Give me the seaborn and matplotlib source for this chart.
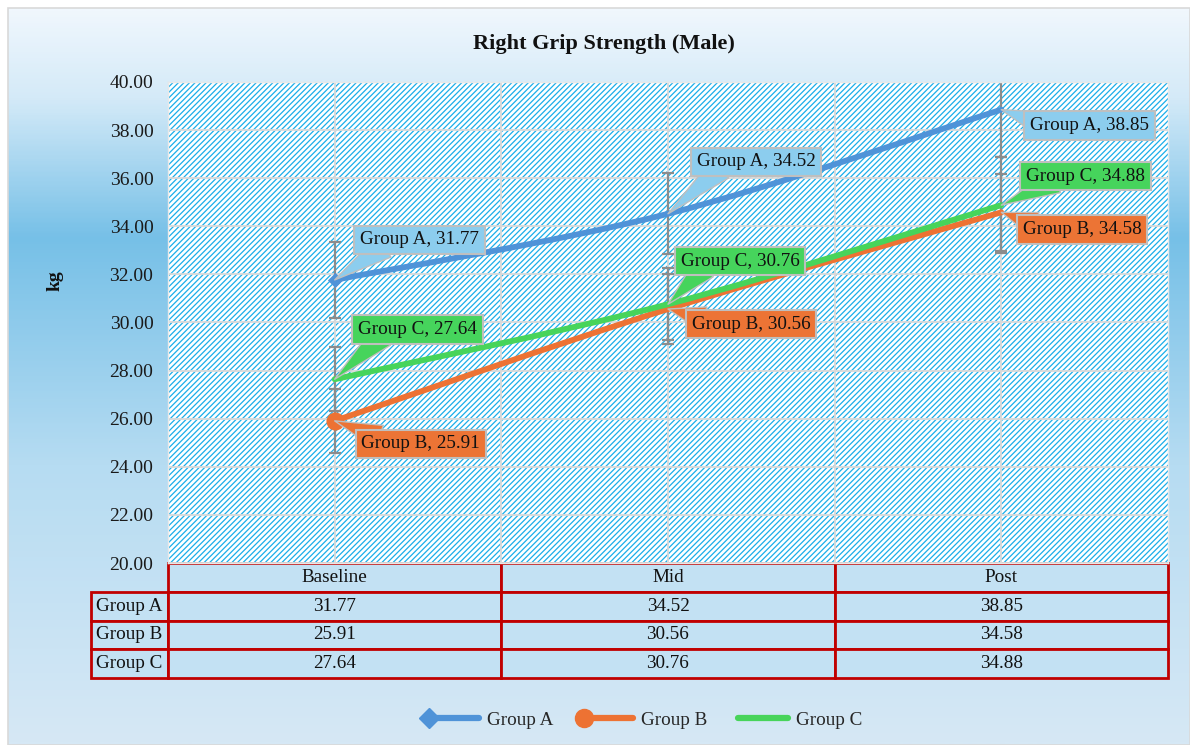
import numpy as np
import pandas as pd
import matplotlib
matplotlib.use("Agg")
import matplotlib.pyplot as plt
import seaborn as sns
from matplotlib.path import Path
from matplotlib.patches import PathPatch, Rectangle
from matplotlib.lines import Line2D
from matplotlib.table import Table
from matplotlib.colors import LinearSegmentedColormap
from matplotlib.legend_handler import HandlerLine2D

# ---- data -------------------------------------------------------------
phases = ["Baseline", "Mid", "Post"]
groups = ["Group A", "Group B", "Group C"]
group_a = [31.77, 34.52, 38.85]
group_b = [25.91, 30.56, 34.58]
group_c = [27.64, 30.76, 34.88]
err_a = [1.58, 1.68, 1.95]
err_b = [1.32, 1.45, 1.60]
err_c = [1.34, 1.50, 2.00]
y_ticks = [20, 22, 24, 26, 28, 30, 32, 34, 36, 38, 40]

values = {"Group A": group_a, "Group B": group_b, "Group C": group_c}
errors = {"Group A": err_a, "Group B": err_b, "Group C": err_c}

df = pd.DataFrame(
    [(g, p, i, values[g][i], errors[g][i])
     for g in groups for i, p in enumerate(phases)],
    columns=["group", "phase", "pos", "value", "err"],
)

# ---- styling ----------------------------------------------------------
line_colors = {"Group A": "#4f93d8", "Group B": "#ed7233", "Group C": "#47d45a"}
box_colors = {"Group A": "#8ccdee", "Group B": "#ec7435", "Group C": "#46d45c"}
# label offsets (pixels) from each point
label_offsets = {
    "Group A": [(85, 40), (88, 52), (88, -16)],
    "Group B": [(86, -23), (83, -15), (81, -17)],
    "Group C": [(83, 50), (72, 43), (84, 29)],
}
label_relpos = {
    "Group A": [(0.2, 0.1), (0.2, 0.1), (0.1, 0.6)],
    "Group B": [(0.15, 0.9), (0.1, 0.8), (0.1, 0.8)],
    "Group C": [(0.2, 0.1), (0.2, 0.1), (0.25, 0.2)],
}

sns.set_theme(style="white")
plt.rcParams["font.family"] = ["Liberation Serif", "DejaVu Serif"]
plt.rcParams["hatch.linewidth"] = 0.9

W, H = 1190, 745
fig = plt.figure(figsize=(W / 100, H / 100), dpi=100)
fig.patch.set_facecolor("white")

# chart-area background gradient
bg = fig.add_axes([0, 0, 1, 1], zorder=-10)
bg.set_xlim(0, 1)
bg.set_ylim(0, 1)
bg.axis("off")
cmap = LinearSegmentedColormap.from_list(
    "bg",
    [(0.0, "#f0f7fd"), (0.12, "#d4eaf8"), (0.31, "#76c0e7"),
     (0.62, "#b6dcf2"), (1.0, "#d6e8f5")],
)
grad = np.linspace(0, 1, 400)[:, None]
x0f, y1f = 8 / W, 1 - 8 / H
bg.imshow(grad, cmap=cmap, aspect="auto", extent=[x0f, 1, 0, y1f], origin="upper")
bg.add_patch(Rectangle((x0f, 0), 1 - x0f, y1f, fill=False,
                       edgecolor="#d9d9d9", lw=1.2))

# main plot area
L, R, T, B = 168, 1168, 82, 563
ax = fig.add_axes([L / W, 1 - B / H, (R - L) / W, (B - T) / H])
ax.set_facecolor("white")
ax.add_patch(Rectangle((0, 0), 1, 1, transform=ax.transAxes, hatch="//////",
                       fill=False, edgecolor="#1aaeea", lw=0, zorder=0.1))
ax.set_xlim(-0.5, 2.5)
ax.set_ylim(20, 40)
ax.set_xticks([0, 1, 2])
ax.set_xticks([0.5, 1.5], minor=True)
ax.set_yticks(y_ticks)
ax.set_yticklabels([f"{v:.2f}" for v in y_ticks])
ax.set_axisbelow(True)
ax.grid(True, which="both", axis="x", color="#d9d9d9", lw=1.3)
ax.grid(True, which="major", axis="y", color="#d9d9d9", lw=1.3)
ax.tick_params(axis="both", which="both", length=0, labelbottom=False)
ax.tick_params(axis="y", labelsize=14, pad=10.5, labelcolor="#1a1a1a")
for s in ax.spines.values():
    s.set_color("#e8e8e8")
    s.set_linewidth(1)

# error bars
for g in groups:
    sub = df[df.group == g]
    ax.errorbar(sub.pos, sub.value, yerr=sub.err, fmt="none",
                ecolor="#8c8c8c", elinewidth=1.6, capsize=4.5,
                capthick=1.6, zorder=2)


def smooth_path(xs, ys):
    pts = np.column_stack([xs, ys]).astype(float)
    ext = np.vstack([pts[0], pts, pts[-1]])
    verts = [pts[0]]
    codes = [Path.MOVETO]
    for i in range(len(pts) - 1):
        p0, p1, p2, p3 = ext[i], ext[i + 1], ext[i + 2], ext[i + 3]
        verts += [p1 + (p2 - p0) / 6, p2 - (p3 - p1) / 6, p2]
        codes += [Path.CURVE4] * 3
    return Path(verts, codes)


for g in groups:
    sub = df[df.group == g]
    ax.add_patch(PathPatch(smooth_path(sub.pos, sub.value), fill=False,
                           edgecolor=line_colors[g], lw=4.2,
                           capstyle="round", joinstyle="round", zorder=3))

# start markers
base = df[df.phase == "Baseline"]
sns.scatterplot(data=base[base.group == "Group A"], x="pos", y="value",
                marker="D", s=60, color=line_colors["Group A"],
                linewidth=0, ax=ax, zorder=4, legend=False)
sns.scatterplot(data=base[base.group == "Group B"], x="pos", y="value",
                marker="o", s=170, color=line_colors["Group B"],
                linewidth=0, ax=ax, zorder=4, legend=False)
ax.set_xlabel("")
ax.set_ylabel("")

# data labels
for g in groups:
    sub = df[df.group == g]
    for i, (x, y) in enumerate(zip(sub.pos, sub.value)):
        ax.annotate(
            f"{g}, {y:.2f}", xy=(x, y), xytext=label_offsets[g][i],
            textcoords="offset pixels", ha="center", va="center",
            fontsize=13.8, color="#111111", zorder=6, annotation_clip=False,
            bbox=dict(boxstyle="square,pad=0.3", fc=box_colors[g],
                      ec="#bfbfbf", lw=1.5),
            arrowprops=dict(arrowstyle="wedge,tail_width=1.3,shrink_factor=0.5",
                            fc=box_colors[g], ec="#bfbfbf", lw=1.0,
                            relpos=label_relpos[g][i], patchA=None,
                            shrinkA=0, shrinkB=0),
        )

# data table below the plot (bbox covers the value columns; row labels sit left)
tbl = Table(ax, bbox=[0, -(678 - B) / (B - T), 1, (678 - B) / (B - T)])
edge = "#c00000"
cell_fc = "#c3e1f3"
col_w, lab_w, row_h = 1 / 3, 77 / 1000, 0.06
for j, p in enumerate(phases):
    tbl.add_cell(0, j, width=col_w, height=row_h, text=p, loc="center",
                 facecolor=cell_fc, edgecolor=edge)
for i, g in enumerate(groups, start=1):
    tbl.add_cell(i, -1, width=lab_w, height=row_h, text=g, loc="left",
                 facecolor=cell_fc, edgecolor=edge)
    for j in range(len(phases)):
        tbl.add_cell(i, j, width=col_w, height=row_h,
                     text=f"{values[g][j]:.2f}", loc="center",
                     facecolor=cell_fc, edgecolor=edge)
tbl.auto_set_font_size(False)
tbl.set_fontsize(13.8)
for (r, c), cell in tbl.get_celld().items():
    cell.set_linewidth(2)
    cell.get_text().set_color("#111111")
    if c == -1:
        cell.PAD = 0.06
ax.add_table(tbl)

# title and axis label
fig.text(604 / W, 1 - 44 / H, "Right Grip Strength (Male)", ha="center",
         va="center", fontsize=16, fontweight="bold", color="#111111")
fig.text(55 / W, 1 - 281 / H, "kg", ha="center", va="center", rotation=90,
         fontsize=14, fontweight="bold", color="#111111")


# legend: marker only at the start of each line sample
class StartMarkerHandler(HandlerLine2D):
    def create_artists(self, *args, **kwargs):
        artists = super().create_artists(*args, **kwargs)
        for a in artists:
            a.set_markevery([0])
        return artists


handles = [
    Line2D([], [], color=line_colors["Group A"], lw=4.5, marker="D",
           markersize=10, solid_capstyle="round"),
    Line2D([], [], color=line_colors["Group B"], lw=4.5, marker="o",
           markersize=13, solid_capstyle="round"),
    Line2D([], [], color=line_colors["Group C"], lw=4.5,
           solid_capstyle="round"),
]
fig.legend(handles, groups, loc="center", bbox_to_anchor=(0.54, 1 - 720 / H),
           ncol=3, frameon=False, fontsize=13.8, numpoints=2,
           handler_map={Line2D: StartMarkerHandler()},
           handlelength=3.2, handletextpad=0.1, columnspacing=1.3)

fig.savefig("out.png", dpi=100, facecolor=fig.get_facecolor())
